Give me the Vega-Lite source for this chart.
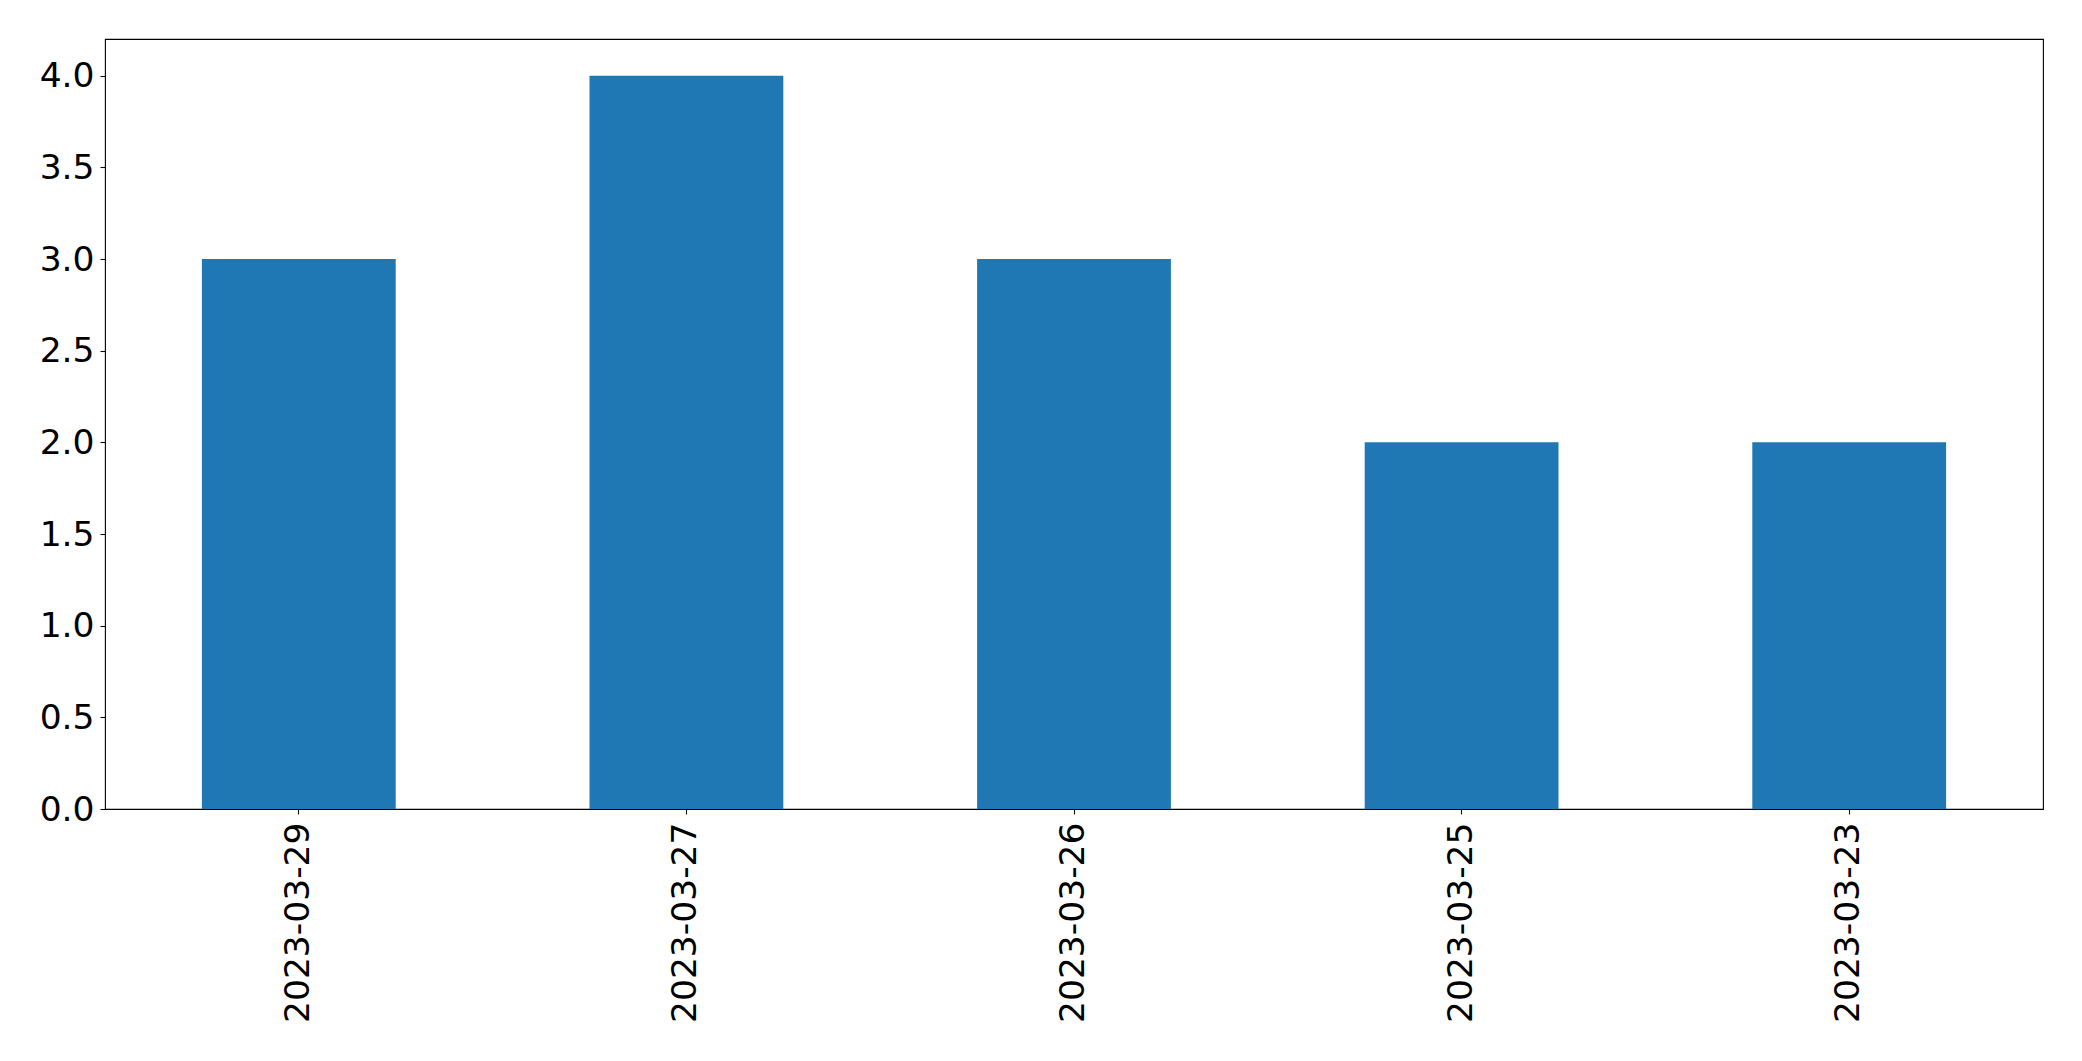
{
  "$schema": "https://vega.github.io/schema/vega-lite/v6.json",
  "width": 1938,
  "height": 770,
  "autosize": {"type": "none"},
  "padding": {"left": 105, "top": 39, "right": 39, "bottom": 252},
  "background": "white",
  "config": {
    "view": {"stroke": "black", "strokeWidth": 1.1},
    "axis": {
      "labelFont": "DejaVu Sans",
      "labelFontSize": 34.5,
      "labelColor": "black",
      "labelLimit": 0,
      "tickColor": "black",
      "tickSize": 5,
      "tickWidth": 1.1,
      "domain": false,
      "grid": false,
      "title": null
    }
  },
  "data": {
    "values": [
      {"date": "2023-03-29", "count": 3},
      {"date": "2023-03-27", "count": 4},
      {"date": "2023-03-26", "count": 3},
      {"date": "2023-03-25", "count": 2},
      {"date": "2023-03-23", "count": 2}
    ]
  },
  "mark": {"type": "bar", "color": "#1f77b4"},
  "encoding": {
    "x": {
      "field": "date",
      "type": "nominal",
      "sort": null,
      "scale": {"paddingInner": 0.5, "paddingOuter": 0.25},
      "axis": {"labelAngle": -90, "labelPadding": 8}
    },
    "y": {
      "field": "count",
      "type": "quantitative",
      "scale": {"domain": [0, 4.2], "nice": false},
      "axis": {"values": [0, 0.5, 1, 1.5, 2, 2.5, 3, 3.5, 4], "format": ".1f", "labelPadding": 6, "labelBaseline": "middle", "labelOffset": 1}
    }
  }
}
